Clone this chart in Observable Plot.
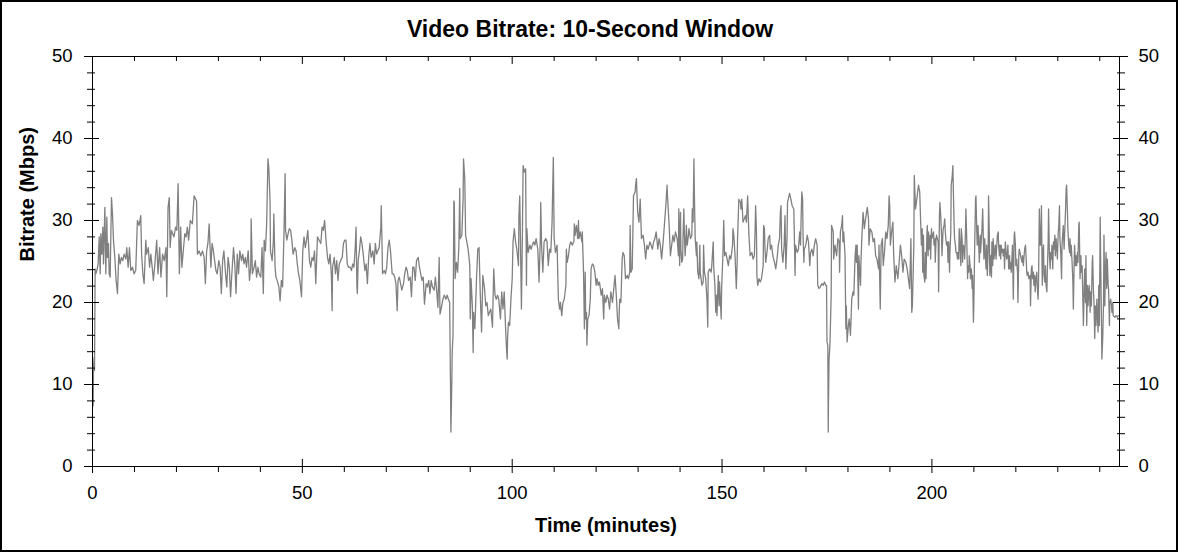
<!DOCTYPE html>
<html>
<head>
<meta charset="utf-8">
<script src="https://cdn.jsdelivr.net/npm/d3@7"></script>
<script src="https://cdn.jsdelivr.net/npm/@observablehq/plot@0.6"></script>
<style>
html, body { margin: 0; padding: 0; background: #fff; overflow: hidden; }
#chart svg { display: block; outline: 2px solid #000; outline-offset: -2px; }
</style>
</head>
<body>
<div id="chart"></div>
<script>
// [time (minutes), bitrate (Mbps)], segment by segment
const seg1 = [[0,9.3],[0.16,7.4],[0.24,12.1],[0.4,13.3],[0.48,11.7],[0.63,24.1],[0.79,23.5],[1.03,23.9],[1.35,24.7],[1.59,28],[1.83,23.5],[1.98,28.4],[2.22,25.9],[2.46,29.2],[2.62,24.7],[2.94,31.6],[3.17,23.5],[3.41,30.4],[3.57,25.5],[3.81,27.2],[3.97,23.5],[4.21,23.1],[4.52,32.8],[4.76,30.8],[5.0,27.6],[5.32,25.5],[5.63,22.7],[5.95,21.1],[6.27,25.9],[6.59,24.7],[6.9,25.5],[7.22,25.1],[7.54,25.9],[7.94,25.3],[8.17,26.7],[8.49,24.3],[8.81,26.7],[9.13,23.9],[9.52,24.3],[9.92,23.5],[10.3,23.9],[10.7,30],[11.1,29.4],[11.5,30.6],[11.7,25.9],[12.0,23.5],[12.3,22.3],[12.7,27.6],[12.9,25.9],[13.3,26.7],[13.6,24.3],[13.9,25.9],[14.3,23.9],[14.5,22.7],[14.8,24.3],[15.3,27.6],[15.6,23.5],[16.0,26.7],[16.3,23.1],[16.7,25.9],[17.1,25.1],[17.5,26.7],[17.7,20.7],[18.0,31.6],[18.3,32.8],[18.5,26.7],[18.8,28.8],[19.1,28.4],[19.4,28],[19.8,29.2],[20.1,28.8],[20.4,34.5],[20.7,23.5],[21.0,29.2],[21.3,24.3],[21.7,26.7],[22.0,28.4],[22.3,28],[22.6,29.2],[22.9,27.6],[23.3,30]];
const seg2 = [[23.8,29.6],[24.2,33],[24.6,32.6],[24.8,32.4],[25.0,25.9],[25.4,26.3],[25.8,25.7],[26.2,26.3],[26.6,25.5],[26.9,22.3],[27.2,26.3],[27.5,27.2],[27.8,29.6],[28.2,24.3],[28.5,27.2],[28.8,26.3],[29.1,25.1],[29.4,23.9],[29.7,23.5],[30.1,25.1],[30.4,24.3],[30.7,21.1],[31.0,25.1],[31.3,26.3],[31.7,23.5],[32.0,21.9],[32.3,25.5],[32.6,24.3],[32.9,20.7],[33.2,23.5],[33.6,26.7],[33.9,24.7],[34.2,21.1],[34.5,25.9],[34.8,23.5],[35.1,26.3],[35.5,25.1],[35.8,25.9],[36.1,24.7],[36.4,25.5],[36.7,24.3],[37.1,26.3],[37.4,22.7],[37.7,24.3],[37.8,30.2],[38.1,23.5],[38.5,24.3],[38.8,25.1],[39.1,23.1],[39.4,24.3],[39.7,23.5],[40.1,23.1],[40.4,26.7],[40.7,21.1],[40.9,27.6],[41.2,26.3],[41.5,29.6],[41.8,37.5],[42.0,36.5],[42.3,32.4],[42.4,26.3],[42.8,25.1],[43.1,27.6],[43.2,30.8],[43.5,24.3],[43.7,23.1],[44.0,22.7],[44.4,21.9],[44.7,20.2],[45.0,22.7],[45.3,21.9],[45.6,28],[45.9,35.7],[46.0,28.8],[46.3,27.6],[46.6,28.4],[46.9,29],[47.2,28.8],[47.5,27.6],[47.8,25.9],[48.2,26.7],[48.5,26.3],[48.8,24.7],[49.1,23.5],[49.4,22.7],[49.8,20.7],[50.1,26.3],[50.4,28],[50.7,26.7],[51.0,27.6],[51.3,28.8],[51.7,25.1],[52.0,24.3],[52.3,25.5],[52.6,25.1],[52.9,26.3],[53.2,22.3],[53.6,28],[54.0,27.6]];
const seg3 = [[54.4,27.2],[54.7,29.2],[55.0,28.8],[55.3,30],[55.7,27.2],[56.0,25.5],[56.3,24.7],[56.6,25.9],[56.9,23.5],[57.1,19.0],[57.2,24.3],[57.6,25.5],[57.9,23.5],[58.2,25.1],[58.5,22.7],[58.8,24.7],[59.1,25.1],[59.5,25.5],[59.8,27.2],[60.1,27.6],[60.4,27.6],[60.7,24.7],[61.0,24.3],[61.4,24.3],[61.7,23.9],[62.0,24.7],[62.3,24.3],[62.6,26.7],[62.8,29.2],[63.0,21.9],[63.1,21.1],[63.3,25.1],[63.6,26.3],[63.9,28],[64.2,27.2],[64.5,25.9],[64.9,23.9],[65.2,24.7],[65.5,22.3],[65.8,25.5],[66.1,27.2],[66.4,25.5],[66.8,26.3],[67.1,24.7],[67.4,27.2],[67.7,25.9],[68.0,26.3],[68.3,26.7],[68.7,29.2],[68.8,31.8],[69.0,26.7],[69.1,23.5],[69.5,23.9],[69.8,23.5],[70.1,24.3],[70.4,26.7],[70.7,27.6],[71.0,26.3],[71.4,23.5],[71.7,23.5],[72.0,23.1],[72.3,22.3],[72.6,19.0],[72.8,22.7],[73.1,23.1],[73.4,22.3],[73.7,21.5],[74.1,22.3],[74.4,23.5],[74.7,24.3],[75.0,23.9],[75.3,22.7],[75.7,23.1],[76.0,20.7],[76.3,24.3],[76.6,24.3],[76.9,22.7],[77.2,25.1],[77.6,25.5],[77.9,24.3],[78.2,23.5],[78.5,22.7],[78.8,23.1],[79.1,19.8],[79.5,22.3],[79.8,21.9],[80.1,22.7],[80.4,21.1],[80.7,22.7],[81.0,21.9],[81.4,21.5],[81.7,23.1],[82.0,21.5],[82.3,19.4],[82.6,25.5],[82.8,18.6]];
const seg4 = [[82.9,18.8],[83.2,19.6],[83.5,20.4],[83.8,20.9],[84.2,20.4],[84.5,20.9],[84.8,20.4],[85.1,20.0],[85.3,9.9],[85.4,4.2],[85.6,9.9],[85.7,13.9],[85.9,16.0],[86.1,32.4],[86.2,32.2],[86.4,22.9],[86.7,24.9],[87.0,23.7],[87.3,27.0],[87.5,33.9],[87.6,27.8],[88.0,28.2],[88.3,32.6],[88.4,37.5],[88.7,35.1],[88.9,28.2],[89.2,27.4],[89.5,26.5],[89.9,24.5],[90.0,18.0],[90.2,22.9],[90.5,19.6],[90.7,13.9],[90.8,18.8],[91.1,16.8],[91.5,22.9],[91.8,26.5],[92.1,26.7],[92.4,20.9],[92.7,16.4],[93.0,23.3],[93.4,21.7],[93.7,19.6],[94.0,20.0],[94.3,18.4],[94.6,18.8],[94.9,19.2],[95.3,17.0],[95.6,24.1],[95.9,20.9],[96.2,20.4],[96.5,20.9],[96.8,20.4],[97.2,18.0],[97.5,21.3],[97.8,19.2],[98.1,21.3],[98.4,17.2],[98.6,14.8],[98.8,13.1],[98.9,15.6],[99.1,17.6],[99.4,17.2],[99.7,20.4],[100.0,22.9],[100.2,27.4],[100.5,29.0],[100.8,27.4],[101.1,26.5],[101.5,24.5],[101.6,30.6],[101.8,33.0],[101.9,29.8],[102.2,19.2],[102.4,27.0],[102.6,36.7],[102.9,35.9],[103.2,36.3],[103.4,22.1],[103.5,29.0],[103.8,26.1],[104.2,27.0],[104.5,26.5],[104.8,27.0],[105.1,27.4],[105.4,27.0],[105.7,27.8],[106.1,26.5],[106.4,22.5],[106.7,27.8],[106.8,32.2],[107.0,27.0],[107.3,23.7],[107.6,27.4],[108.0,27.8],[108.3,27.4],[108.6,24.5],[108.9,26.5],[109.2,26.1],[109.5,29.8],[109.8,37.7],[110.0,27.8],[110.3,26.1],[110.7,27.0],[111.0,20.4],[111.3,19.2]];
const seg5 = [[111.5,20.0],[111.8,18.4],[112.1,20.0],[112.4,20.4],[112.8,22.1],[112.9,26.5],[113.1,24.9],[113.4,25.7],[113.7,27.0],[114.0,27.4],[114.3,27.0],[114.7,27.4],[114.8,29.6],[115.0,28.2],[115.3,29.4],[115.6,27.8],[115.8,30.0],[115.9,27.8],[116.2,28.6],[116.6,27.4],[116.7,28.6],[117.0,23.7],[117.2,16.8],[117.4,23.7],[117.5,18.0],[117.7,18.8],[117.8,14.8],[118.0,18.0],[118.3,18.4],[118.6,20.4],[118.8,24.1],[119.1,24.7],[119.4,24.5],[119.7,23.7],[120.0,22.1],[120.2,22.9],[120.5,22.1],[120.8,22.5],[121.2,20.9],[121.5,21.7],[121.8,18.0],[121.96,20.9],[122.3,20.0],[122.6,20.9],[122.9,20.4],[123.2,19.2],[123.5,21.3],[123.9,20.0],[124.2,21.7],[124.5,23.3],[124.8,20.9],[125.1,18.0],[125.4,16.8],[125.6,20.4],[125.9,20.0],[126.2,25.3],[126.4,26.1],[126.7,25.7],[127.0,22.9],[127.4,23.3],[127.7,22.9],[128.0,23.7],[128.1,29.4],[128.3,23.7],[128.6,24.1],[128.9,33.0],[129.3,33.5],[129.4,34.3],[129.6,35.1],[129.9,31.0],[130.2,29.8],[130.5,32.6],[130.8,27.8],[131.2,28.2],[131.5,27.0],[131.8,25.3],[132.1,27.0],[132.4,26.5],[132.8,27.4],[133.1,27.0],[133.4,26.5],[133.7,27.4],[134.0,27.8],[134.3,28.6],[134.7,26.5],[135.0,27.8],[135.3,27.0],[135.6,25.3],[135.9,27.0],[136.2,29.0],[136.6,31.8],[136.9,34.3],[137.0,33.0],[137.4,29.4],[137.7,25.7],[138.0,27.0],[138.3,28.2],[138.6,27.4],[138.9,28.6],[139.3,27.8],[139.6,25.7],[139.7,31.4],[139.9,24.5]];
const seg6 = [[140.1,31.0],[140.2,26.5],[140.4,24.9],[140.6,25.3],[140.7,27.8],[140.9,31.4],[141.0,29.0],[141.2,25.7],[141.35,27.0],[141.5,29.4],[141.7,27.0],[142.0,28.2],[142.1,29.0],[142.5,27.8],[142.8,28.2],[142.9,31.4],[143.1,29.8],[143.3,37.5],[143.4,33.5],[143.6,27.8],[143.9,25.7],[144.0,27.4],[144.2,23.7],[144.5,22.9],[144.7,27.0],[144.8,23.7],[145.2,22.1],[145.5,22.5],[145.6,27.0],[145.8,23.7],[146.1,22.9],[146.4,20.4],[146.6,17.0],[146.7,23.7],[147.1,24.1],[147.4,23.7],[147.5,24.1],[147.9,27.4],[148.0,24.5],[148.3,22.1],[148.5,18.8],[148.7,20.9],[148.8,18.4],[149.1,23.3],[149.3,19.6],[149.4,22.5],[149.8,18.0],[149.9,21.7],[150.2,25.7],[150.4,30.0],[150.6,25.7],[150.9,26.1],[151.2,25.3],[151.5,24.5],[151.8,25.7],[152.1,25.3],[152.5,27.0],[152.6,29.0],[152.8,28.2],[153.1,25.7],[153.4,21.7],[153.6,24.9],[153.7,27.8],[153.9,31.0],[154.0,32.6],[154.4,32.2],[154.5,31.4],[154.7,32.6],[155.0,29.8],[155.3,30.2],[155.6,30.6],[155.8,29.8],[156.1,33.0],[156.4,28.2],[156.7,25.7],[157.1,26.1],[157.4,25.3],[157.7,25.7],[157.9,29.4],[158.0,31.8],[158.2,28.6],[158.3,23.3],[158.5,22.1],[158.8,22.9],[159.1,22.5],[159.4,22.9],[159.8,24.5],[159.9,29.4],[160.1,29.0],[160.2,27.0],[160.4,24.9],[160.7,26.1],[161.0,27.8],[161.35,28.2],[161.5,26.5],[161.8,27.0],[162.1,25.7],[162.5,24.9],[162.8,24.1],[163.1,25.3],[163.4,27.0],[163.7,27.8],[163.9,31.0],[164.05,31.8],[164.2,26.5],[164.5,24.9],[164.8,27.0],[165.0,30.6],[165.2,24.1],[165.5,28.2],[165.6,32.2],[165.95,33.0],[166.1,33.3],[166.4,32.6],[166.7,31.8],[167.1,31.4],[167.4,23.3],[167.5,27.0],[167.9,26.1],[168.2,26.5],[168.5,28.6]];
const seg7 = [[168.7,27.0],[168.8,29.4],[169.0,33.5],[169.2,32.6],[169.3,28.2],[169.5,24.9],[169.6,26.5],[169.95,27.0],[170.3,28.2],[170.6,27.4],[170.9,24.5],[171.1,26.1],[171.4,26.5],[171.7,25.7],[172.0,27.0],[172.3,27.8],[172.65,27.0],[172.8,22.1],[173.1,21.7],[173.4,21.9],[173.8,22.3],[174.1,22.1],[174.4,22.5],[174.7,22.1],[174.9,22.1],[175.0,15.2],[175.2,14.8],[175.3,4.2],[175.35,7.4],[175.5,13.1],[175.7,14.8],[175.8,16.8],[176.0,20.9],[176.1,29.4],[176.5,28.6],[176.6,25.3],[176.9,27.0],[177.3,25.7],[177.6,27.8],[177.9,27.4],[178.0,23.7],[178.2,28.6],[178.5,29.4],[178.7,30.6],[178.8,27.4],[179.0,28.6],[179.3,25.7],[179.5,16.8],[179.6,19.6],[179.8,15.2],[180.1,17.2],[180.3,18.0],[180.6,16.0],[180.9,20.4],[181.2,21.3],[181.4,20.9],[181.7,25.7],[181.9,27.0],[182.0,24.9],[182.2,27.0],[182.5,19.2],[182.6,25.7],[183.0,22.1],[183.1,24.9],[183.3,27.8],[183.6,31.0],[183.8,29.8],[183.9,29.0],[184.2,30.2],[184.6,31.6],[184.9,30.2],[185.0,27.0],[185.3,29.0],[185.7,28.6],[186.0,27.4],[186.3,27.8],[186.6,25.7],[186.9,25.3],[187.3,24.1],[187.4,27.0],[187.6,21.7],[187.7,19.2],[187.9,27.0],[188.2,27.8],[188.4,24.5],[188.7,26.1],[189.0,28.6],[189.3,27.8],[189.6,29.4],[189.8,33.0],[189.95,31.8],[190.1,27.0],[190.4,28.6],[190.7,29.8],[190.9,25.7],[191.2,22.5],[191.5,24.5],[191.9,22.9],[192.2,24.9],[192.5,27.0],[192.8,25.7],[193.1,23.7],[193.4,25.3],[193.8,24.9],[194.1,24.1],[194.4,22.9],[194.7,21.7],[195.0,27.8],[195.2,18.8],[195.35,19.6],[195.7,27.0],[195.8,35.5],[196.1,31.4],[196.5,33.0],[196.8,34.3],[197.1,33.5]];
const seg8 = [[197.3,30.2],[197.5,27.0],[197.7,29.0],[197.8,23.7],[198.0,28.2],[198.1,23.3],[198.3,22.5],[198.45,26.1],[198.6,22.9],[198.8,28.2],[198.9,29.4],[199.1,25.7],[199.2,28.6],[199.4,26.5],[199.6,28.2],[199.7,25.3],[199.9,29.0],[200.0,27.8],[200.2,28.2],[200.4,28.6],[200.5,27.0],[200.7,27.8],[200.8,24.9],[201.0,27.8],[201.1,28.2],[201.5,27.4],[201.6,21.3],[201.8,30.6],[201.9,32.2],[202.1,30.6],[202.3,28.2],[202.4,25.7],[202.6,28.2],[202.7,29.0],[202.9,29.4],[203.05,30.2],[203.2,28.6],[203.4,27.4],[203.5,27.0],[203.7,27.4],[203.85,24.9],[204.0,27.4],[204.2,23.7],[204.3,26.1],[204.5,28.6],[204.6,34.3],[204.8,35.1],[205.0,36.7],[205.1,33.9],[205.3,29.4],[205.4,27.8],[205.6,27.0],[205.75,26.1],[205.9,26.1],[206.1,25.3],[206.2,26.1],[206.4,25.3],[206.5,29.0],[206.7,27.0],[206.9,24.5],[207.0,29.0],[207.2,27.8],[207.3,24.9],[207.5,27.0],[207.7,26.5],[207.8,25.3],[208.0,28.6],[208.1,31.4],[208.3,27.8],[208.5,22.9],[208.6,24.5],[208.8,23.7],[208.9,25.7],[209.1,24.5],[209.2,22.9],[209.4,24.1],[209.6,21.7],[209.7,23.3],[209.9,17.6],[210.0,20.0],[210.2,27.0],[210.4,32.6],[210.5,33.0],[210.7,28.6],[210.8,27.0],[211.0,29.4],[211.1,27.8],[211.3,24.9],[211.5,28.2],[211.6,26.1],[211.8,27.8],[211.9,28.6],[212.1,31.4],[212.3,27.0],[212.4,25.3],[212.6,27.8],[212.7,26.1],[212.9,24.1],[213.05,27.0],[213.2,23.3],[213.4,26.1],[213.5,33.0],[213.7,27.8],[213.8,23.3],[214.0,25.7],[214.2,23.1],[214.3,27.4],[214.5,24.5],[214.6,27.8],[214.8,25.3],[215.0,26.5],[215.1,27.0],[215.3,25.3],[215.4,26.5],[215.6,28.2],[215.8,28.6],[215.9,27.0],[216.1,25.7],[216.2,27.0],[216.4,25.3],[216.5,27.0],[216.7,26.1],[216.9,26.5],[217.0,25.7],[217.2,26.5],[217.3,24.1],[217.5,27.4],[217.7,26.1],[217.8,25.3],[218.0,25.7],[218.1,27.0],[218.3,24.1],[218.5,25.7],[218.6,24.1],[218.8,24.9],[218.9,23.7],[219.1,25.7],[219.2,27.0],[219.4,20.4],[219.6,28.2],[219.7,28.6],[219.9,27.0],[220.0,24.5],[220.2,25.3],[220.4,23.7],[220.5,20.0],[220.7,25.7],[220.8,26.5],[221.0,26.1],[221.15,25.7],[221.3,25.3],[221.5,24.9],[221.6,25.7],[221.8,24.5],[221.9,25.3],[222.1,26.5],[222.3,27.0],[222.4,26.1],[222.6,23.7],[222.7,23.3],[222.9,23.7],[223.1,22.9],[223.4,23.3],[223.5,19.6],[223.7,24.1],[223.85,24.5],[224.0,22.9],[224.2,23.7],[224.3,22.1],[224.5,23.3],[224.6,21.3],[224.8,22.9],[225.0,23.7],[225.1,22.1],[225.3,20.4],[225.4,22.1],[225.6,31.4],[225.75,27.0]];
const seg9 = [[225.9,27.0],[226.1,31.8],[226.3,22.1],[226.4,26.1],[226.6,27.0],[226.7,23.3],[226.9,22.5],[227.05,24.5],[227.2,22.1],[227.4,21.3],[227.5,23.7],[227.7,27.4],[227.8,31.4],[228.0,25.7],[228.2,24.1],[228.3,26.1],[228.5,25.3],[228.6,27.0],[228.8,24.1],[228.96,27.4],[229.1,26.5],[229.3,28.2],[229.4,25.7],[229.6,27.8],[229.7,27.0],[229.9,25.3],[230.1,28.6],[230.2,29.0],[230.4,31.8],[230.5,27.8],[230.7,26.1],[230.9,22.9],[231.0,27.0],[231.2,28.6],[231.3,29.4],[231.5,26.5],[231.65,28.6],[231.8,30.6],[232.0,33.9],[232.1,34.3],[232.3,31.0],[232.4,29.0],[232.6,27.0],[232.8,26.1],[232.9,27.8],[233.1,25.7],[233.2,27.0],[233.4,24.9],[233.6,22.5],[233.7,19.2],[233.9,24.9],[234.0,27.0],[234.2,24.5],[234.35,25.7],[234.5,24.5],[234.7,26.1],[234.8,24.9],[235.0,29.4],[235.1,29.8],[235.3,22.9],[235.5,25.7],[235.6,23.7],[235.8,24.5],[235.9,22.1],[236.1,17.2],[236.3,22.1],[236.4,24.1],[236.6,20.0],[236.7,25.7],[236.9,17.2],[237.05,22.1],[237.2,19.6],[237.4,21.7],[237.5,22.1],[237.7,18.8],[237.8,21.3],[238.0,19.6],[238.2,24.9],[238.3,25.7],[238.5,21.3],[238.6,20.4],[238.8,15.6],[238.96,19.6],[239.1,17.2],[239.3,20.4],[239.4,18.8],[239.6,16.4],[239.75,22.1],[239.9,17.2],[240.1,30.4],[240.2,25.7],[240.4,18.0],[240.5,13.1],[240.7,15.6],[240.9,20.0],[241.0,28.2],[241.2,19.6],[241.3,22.9],[241.5,26.1],[241.65,21.7],[241.8,25.3],[242.0,22.1],[242.1,21.7],[242.3,17.2],[242.4,20.0],[242.6,20.4],[242.8,19.6],[242.9,18.8],[243.1,20.0],[243.2,18.4],[243.6,18.2],[243.9,18.4],[244.2,18.2],[244.4,18.4]];

const yMajor = [0, 10, 20, 30, 40, 50];
const yMinor = [2, 4, 6, 8, 12, 14, 16, 18, 22, 24, 26, 28, 32, 34, 36, 38, 42, 44, 46, 48];
const xMajor = [0, 50, 100, 150, 200];
const xMinor = [10, 20, 30, 40, 60, 70, 80, 90, 110, 120, 130, 140, 160, 170, 180, 190, 210, 220, 230, 240];
const xDomain = [0, 244.7];
const yDomain = [0, 50];

const titleText = "Video Bitrate: 10-Second Window";
const xLabelText = "Time (minutes)";
const yLabelText = "Bitrate (Mbps)";

const data = [seg1, seg2, seg3, seg4, seg5, seg6, seg7, seg8, seg9].flat().map(([t, v]) => ({t, v}));

const font = "'Liberation Sans', Arial, Helvetica, sans-serif";
const blank = () => "";

const chart = Plot.plot({
  width: 1178,
  height: 552,
  marginLeft: 92,
  marginRight: 59,
  marginTop: 56,
  marginBottom: 86,
  style: {fontFamily: font, fontSize: "18.5px", color: "#000", background: "#fff"},
  x: {domain: xDomain, label: null},
  y: {domain: yDomain, label: null},
  marks: [
    Plot.line(data, {x: "t", y: "v", stroke: "#808080", strokeWidth: 1.3}),
    Plot.frame({stroke: "#000", strokeWidth: 1}),
    // left axis ticks (crossing)
    Plot.axisY({anchor: "left", ticks: yMajor, tickSize: 15, dx: 7, tickFormat: blank, stroke: "#000"}),
    Plot.axisY({anchor: "left", ticks: yMinor, tickSize: 8, dx: 3, tickFormat: blank, stroke: "#000"}),
    Plot.axisY({anchor: "left", ticks: yMajor, tickSize: 0, tickPadding: 20, fill: "#000"}),
    // right axis
    Plot.axisY({anchor: "right", ticks: yMajor, tickSize: 15, dx: -7, tickFormat: blank, stroke: "#000"}),
    Plot.axisY({anchor: "right", ticks: yMinor, tickSize: 8, dx: -3, tickFormat: blank, stroke: "#000"}),
    Plot.axisY({anchor: "right", ticks: yMajor, tickSize: 0, tickPadding: 19, fill: "#000"}),
    // bottom axis
    Plot.axisX({anchor: "bottom", ticks: xMajor, tickSize: 14, dy: -7, tickFormat: blank, stroke: "#000"}),
    Plot.axisX({anchor: "bottom", ticks: xMinor, tickSize: 6, tickFormat: blank, stroke: "#000"}),
    Plot.axisX({anchor: "bottom", ticks: xMajor, tickSize: 0, tickPadding: 19, fill: "#000"}),
    // top ticks (inward)
    Plot.axisX({anchor: "top", ticks: xMajor, tickSize: 7, dy: 7, tickFormat: blank, stroke: "#000"}),
    Plot.axisX({anchor: "top", ticks: xMinor, tickSize: 4, dy: 4, tickFormat: blank, stroke: "#000"}),
    // title & labels
    Plot.text([titleText], {text: d => d, frameAnchor: "top", dx: -16, dy: -20, lineAnchor: "bottom", fontSize: 23, fontWeight: "bold", fill: "#000"}),
    Plot.text([xLabelText], {text: d => d, frameAnchor: "bottom", dy: 65, lineAnchor: "bottom", fontSize: 20, fontWeight: "bold", fill: "#000"}),
    Plot.text([yLabelText], {text: d => d, frameAnchor: "left", dx: -59, rotate: -90, lineAnchor: "bottom", fontSize: 20, fontWeight: "bold", fill: "#000"})
  ]
});

document.getElementById("chart").appendChild(chart);
</script>
</body>
</html>
